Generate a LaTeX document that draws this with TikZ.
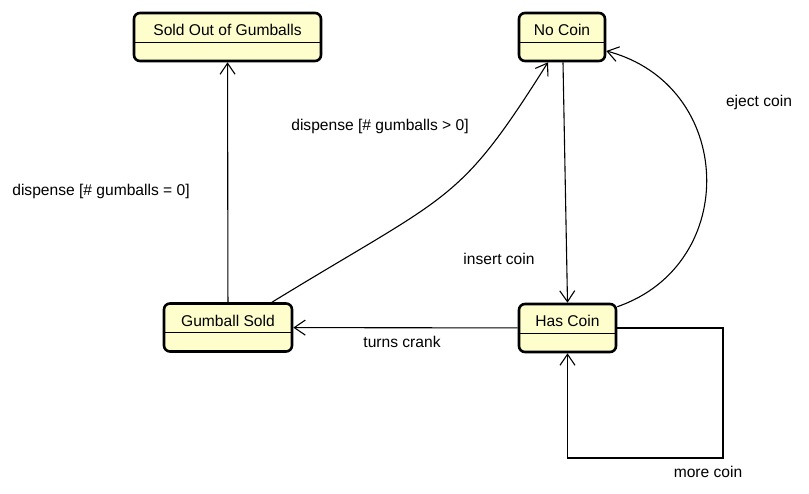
\documentclass[tikz,border=0pt]{standalone}
\usepackage{fontspec}
\setmainfont{Liberation Sans}
\usepackage{xcolor}
\usetikzlibrary{arrows.meta,positioning}
\definecolor{statefill}{RGB}{254,254,204}

\begin{document}
\begin{tikzpicture}[x=1pt,y=-1pt,
  font=\fontsize{15.6}{18}\selectfont,
  state/.style={draw, line width=2.6pt, rounded corners=6pt, fill=statefill,
    inner sep=0pt, text height=23pt, text depth=25pt},
  edge/.style={line width=1.1pt, -{Straight Barb[length=11pt,width=15pt]}},
  lbl/.style={inner sep=0pt}]
  \useasboundingbox (0,0) rectangle (809,494);
  % states
  \node[state, minimum width=187pt] (soldout) at (227.5,37) {Sold Out of Gumballs};
  \node[state, minimum width=86pt] (nocoin) at (562,37) {No Coin};
  \node[state, minimum width=128pt] (gumsold) at (228,327.5) {Gumball Sold};
  \node[state, minimum width=97pt] (hascoin) at (567.5,328) {Has Coin};
  % compartment lines
  \foreach \s in {soldout,nocoin,gumsold,hascoin}
    \draw[line width=1pt] ([yshift=-30.5]\s.north west) -- ([yshift=-30.5]\s.north east);
  % transitions
  \coordinate (loopc) at (723,458);
  \draw[edge] (gumsold) -- (soldout);
  \draw[edge] ([xshift=44]gumsold.north) .. controls (452,192) and (458,205) .. ([xshift=-14]nocoin.south);
  \draw[edge] ([xshift=1]nocoin.south) -- (hascoin.north);
  \draw[edge] ([yshift=-4]hascoin.north east) .. controls (741,264) and (735,85) .. ([yshift=-14]nocoin.east);
  \draw[edge] (hascoin) -- (gumsold);
  \draw[edge] (hascoin.east) -| (loopc) -| (hascoin.south);
  % labels
  \node[lbl] (lblempty) at (101,191) {dispense [\# gumballs = 0]};
  \node[lbl] (lblmore) at (380,126) {dispense [\# gumballs > 0]};
  \node[lbl] (lblinsert) at (499,259) {insert coin};
  \node[lbl] (lbleject) at (759,102) {eject coin};
  \node[lbl] (lblcrank) at (402,342) {turns crank};
  \node[lbl] (lblloop) at (708,472) {more coin};
\end{tikzpicture}
\end{document}
